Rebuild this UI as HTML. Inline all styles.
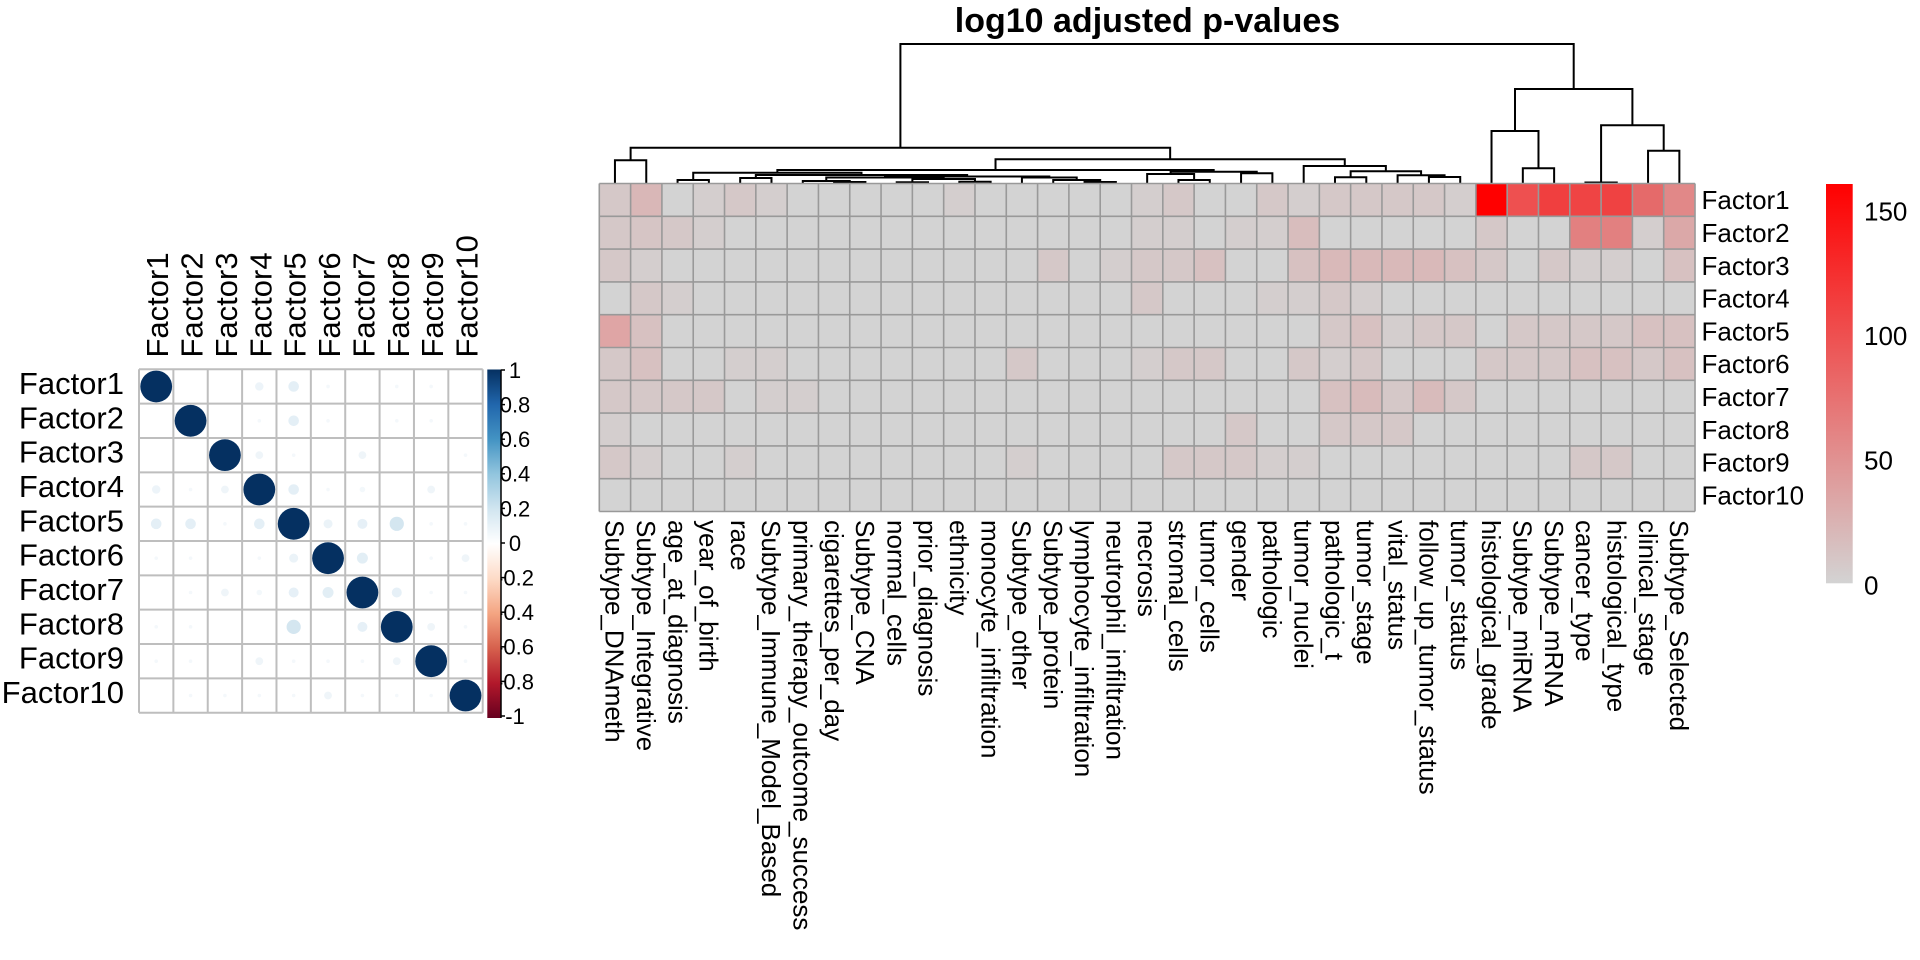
<!DOCTYPE html>
<html>
<head>
<meta charset="utf-8">
<style>
html,body{margin:0;padding:0;background:#fff;}
svg{display:block;}
text{font-family:"Liberation Sans",Arial,sans-serif;fill:#000;}
</style>
</head>
<body>
<svg width="1920" height="960" viewBox="0 0 1920 960" xmlns="http://www.w3.org/2000/svg">
<defs>
<linearGradient id="gR" x1="0" y1="0" x2="0" y2="1">
<stop offset="0" stop-color="#FF0000"/>
<stop offset="1" stop-color="#D3D3D3"/>
</linearGradient>
<linearGradient id="gB" x1="0" y1="0" x2="0" y2="1">
<stop offset="0" stop-color="#053061"/>
<stop offset="0.1" stop-color="#2166AC"/>
<stop offset="0.2" stop-color="#4393C3"/>
<stop offset="0.3" stop-color="#92C5DE"/>
<stop offset="0.4" stop-color="#D1E5F0"/>
<stop offset="0.5" stop-color="#FFFFFF"/>
<stop offset="0.6" stop-color="#FDDBC7"/>
<stop offset="0.7" stop-color="#F4A582"/>
<stop offset="0.8" stop-color="#D6604D"/>
<stop offset="0.9" stop-color="#B2182B"/>
<stop offset="1" stop-color="#67001F"/>
</linearGradient>
<clipPath id="cl"><rect x="0" y="0" width="535" height="960"/></clipPath>
</defs>
<rect width="1920" height="960" fill="#fff"/>

<!-- ============ CORRPLOT ============ -->
<g font-size="31" text-anchor="end">
<text x="124" y="394">Factor1</text>
<text x="124" y="428.3">Factor2</text>
<text x="124" y="462.6">Factor3</text>
<text x="124" y="497">Factor4</text>
<text x="124" y="531.3">Factor5</text>
<text x="124" y="565.7">Factor6</text>
<text x="124" y="600">Factor7</text>
<text x="124" y="634.3">Factor8</text>
<text x="124" y="668.7">Factor9</text>
<text x="124" y="703">Factor10</text>
</g>
<g font-size="31">
<text transform="translate(168.19,357.5) rotate(-90)">Factor1</text>
<text transform="translate(202.56,357.5) rotate(-90)">Factor2</text>
<text transform="translate(236.93,357.5) rotate(-90)">Factor3</text>
<text transform="translate(271.30,357.5) rotate(-90)">Factor4</text>
<text transform="translate(305.67,357.5) rotate(-90)">Factor5</text>
<text transform="translate(340.04,357.5) rotate(-90)">Factor6</text>
<text transform="translate(374.41,357.5) rotate(-90)">Factor7</text>
<text transform="translate(408.78,357.5) rotate(-90)">Factor8</text>
<text transform="translate(443.15,357.5) rotate(-90)">Factor9</text>
<text transform="translate(477.52,357.5) rotate(-90)">Factor10</text>
</g>
<rect x="139" y="369.3" width="343.7" height="343.4" fill="#fff"/>
<g stroke="#BEBEBE" stroke-width="2">
<line x1="139" y1="369.3" x2="139" y2="712.7"/>
<line x1="173.37" y1="369.3" x2="173.37" y2="712.7"/>
<line x1="207.74" y1="369.3" x2="207.74" y2="712.7"/>
<line x1="242.11" y1="369.3" x2="242.11" y2="712.7"/>
<line x1="276.48" y1="369.3" x2="276.48" y2="712.7"/>
<line x1="310.85" y1="369.3" x2="310.85" y2="712.7"/>
<line x1="345.22" y1="369.3" x2="345.22" y2="712.7"/>
<line x1="379.59" y1="369.3" x2="379.59" y2="712.7"/>
<line x1="413.96" y1="369.3" x2="413.96" y2="712.7"/>
<line x1="448.33" y1="369.3" x2="448.33" y2="712.7"/>
<line x1="482.7" y1="369.3" x2="482.7" y2="712.7"/>
<line x1="139" y1="369.3" x2="482.7" y2="369.3"/>
<line x1="139" y1="403.64" x2="482.7" y2="403.64"/>
<line x1="139" y1="437.98" x2="482.7" y2="437.98"/>
<line x1="139" y1="472.32" x2="482.7" y2="472.32"/>
<line x1="139" y1="506.66" x2="482.7" y2="506.66"/>
<line x1="139" y1="541" x2="482.7" y2="541"/>
<line x1="139" y1="575.34" x2="482.7" y2="575.34"/>
<line x1="139" y1="609.68" x2="482.7" y2="609.68"/>
<line x1="139" y1="644.02" x2="482.7" y2="644.02"/>
<line x1="139" y1="678.36" x2="482.7" y2="678.36"/>
<line x1="139" y1="712.7" x2="482.7" y2="712.7"/>
</g>
<!-- diagonal -->
<g fill="#053061">
<circle cx="156.19" cy="386.47" r="15.9"/>
<circle cx="190.56" cy="420.81" r="15.9"/>
<circle cx="224.93" cy="455.15" r="15.9"/>
<circle cx="259.30" cy="489.49" r="15.9"/>
<circle cx="293.67" cy="523.83" r="15.9"/>
<circle cx="328.04" cy="558.17" r="15.9"/>
<circle cx="362.41" cy="592.51" r="15.9"/>
<circle cx="396.78" cy="626.85" r="15.9"/>
<circle cx="431.15" cy="661.19" r="15.9"/>
<circle cx="465.52" cy="695.53" r="15.9"/>
</g>
<!-- off-diagonal small -->
<g>
<circle cx="259.30" cy="386.47" r="4.2" fill="#EDF4F9"/>
<circle cx="156.19" cy="489.49" r="4.2" fill="#EDF4F9"/>
<circle cx="293.67" cy="386.47" r="5.3" fill="#E4EFF6"/>
<circle cx="156.19" cy="523.83" r="5.3" fill="#E4EFF6"/>
<circle cx="293.67" cy="420.81" r="5.3" fill="#E4EFF6"/>
<circle cx="190.56" cy="523.83" r="5.3" fill="#E4EFF6"/>
<circle cx="259.30" cy="455.15" r="3.9" fill="#EFF5F9"/>
<circle cx="224.93" cy="489.49" r="3.9" fill="#EFF5F9"/>
<circle cx="362.41" cy="455.15" r="3.9" fill="#EFF5F9"/>
<circle cx="224.93" cy="592.51" r="3.9" fill="#EFF5F9"/>
<circle cx="293.67" cy="489.49" r="5.3" fill="#E4EFF6"/>
<circle cx="259.30" cy="523.83" r="5.3" fill="#E4EFF6"/>
<circle cx="362.41" cy="489.49" r="2.8" fill="#F3F8FB"/>
<circle cx="259.30" cy="592.51" r="2.8" fill="#F3F8FB"/>
<circle cx="431.15" cy="489.49" r="3.9" fill="#EFF5F9"/>
<circle cx="259.30" cy="661.19" r="3.9" fill="#EFF5F9"/>
<circle cx="328.04" cy="523.83" r="4.5" fill="#EBF3F8"/>
<circle cx="293.67" cy="558.17" r="4.5" fill="#EBF3F8"/>
<circle cx="362.41" cy="523.83" r="5.0" fill="#E6F0F7"/>
<circle cx="293.67" cy="592.51" r="5.0" fill="#E6F0F7"/>
<circle cx="396.78" cy="523.83" r="7.1" fill="#D4E6F0"/>
<circle cx="293.67" cy="626.85" r="7.1" fill="#D4E6F0"/>
<circle cx="362.41" cy="558.17" r="5.5" fill="#E2EEF5"/>
<circle cx="328.04" cy="592.51" r="5.5" fill="#E2EEF5"/>
<circle cx="465.52" cy="558.17" r="3.9" fill="#EFF5F9"/>
<circle cx="328.04" cy="695.53" r="3.9" fill="#EFF5F9"/>
<circle cx="396.78" cy="592.51" r="5.0" fill="#E6F0F7"/>
<circle cx="362.41" cy="626.85" r="5.0" fill="#E6F0F7"/>
<circle cx="431.15" cy="626.85" r="3.9" fill="#EFF5F9"/>
<circle cx="396.78" cy="661.19" r="3.9" fill="#EFF5F9"/>
</g>
<g fill="#F4F8FB">
<circle cx="328.04" cy="386.47" r="1.8"/><circle cx="156.19" cy="558.17" r="1.8"/>
<circle cx="396.78" cy="386.47" r="1.8"/><circle cx="431.15" cy="386.47" r="1.8"/>
<circle cx="259.30" cy="420.81" r="1.8"/><circle cx="328.04" cy="420.81" r="1.8"/>
<circle cx="396.78" cy="420.81" r="1.8"/><circle cx="431.15" cy="420.81" r="1.8"/>
<circle cx="190.56" cy="489.49" r="1.8"/><circle cx="328.04" cy="489.49" r="1.8"/>
<circle cx="293.67" cy="455.15" r="1.8"/><circle cx="465.52" cy="455.15" r="1.8"/>
<circle cx="431.15" cy="523.83" r="1.8"/><circle cx="465.52" cy="523.83" r="1.8"/>
<circle cx="224.93" cy="523.83" r="1.8"/><circle cx="190.56" cy="558.17" r="1.8"/>
<circle cx="259.30" cy="558.17" r="1.8"/><circle cx="431.15" cy="558.17" r="1.8"/>
<circle cx="190.56" cy="592.51" r="1.8"/><circle cx="431.15" cy="592.51" r="1.8"/>
<circle cx="465.52" cy="592.51" r="1.8"/><circle cx="156.19" cy="626.85" r="1.8"/>
<circle cx="190.56" cy="626.85" r="1.8"/><circle cx="465.52" cy="626.85" r="1.8"/>
<circle cx="156.19" cy="661.19" r="1.8"/><circle cx="190.56" cy="661.19" r="1.8"/>
<circle cx="293.67" cy="661.19" r="1.8"/><circle cx="328.04" cy="661.19" r="1.8"/>
<circle cx="362.41" cy="661.19" r="1.8"/><circle cx="465.52" cy="661.19" r="1.8"/>
<circle cx="190.56" cy="695.53" r="1.8"/><circle cx="224.93" cy="695.53" r="1.8"/>
<circle cx="259.30" cy="695.53" r="1.8"/><circle cx="293.67" cy="695.53" r="1.8"/>
<circle cx="362.41" cy="695.53" r="1.8"/><circle cx="396.78" cy="695.53" r="1.8"/>
<circle cx="431.15" cy="695.53" r="1.8"/>
</g>
<!-- corr color legend -->
<g clip-path="url(#cl)" font-size="22" text-anchor="middle">
<text x="515" y="377.9">1</text>
<text x="515" y="412.5">0.8</text>
<text x="515" y="447.1">0.6</text>
<text x="515" y="481.7">0.4</text>
<text x="515" y="516.3">0.2</text>
<text x="515" y="550.9">0</text>
<text x="515" y="585.5">-0.2</text>
<text x="515" y="620.1">-0.4</text>
<text x="515" y="654.7">-0.6</text>
<text x="515" y="689.3">-0.8</text>
<text x="515" y="723.9">-1</text>
</g>
<rect x="487.3" y="369.5" width="13.7" height="348.5" fill="url(#gB)"/>
<g stroke="#000" stroke-width="1.5">
<line x1="501" y1="369.5" x2="501" y2="718"/>
<line x1="501" y1="370" x2="505" y2="370"/>
<line x1="501" y1="404.6" x2="505" y2="404.6"/>
<line x1="501" y1="439.2" x2="505" y2="439.2"/>
<line x1="501" y1="473.8" x2="505" y2="473.8"/>
<line x1="501" y1="508.4" x2="505" y2="508.4"/>
<line x1="501" y1="543" x2="505" y2="543"/>
<line x1="501" y1="577.6" x2="505" y2="577.6"/>
<line x1="501" y1="612.2" x2="505" y2="612.2"/>
<line x1="501" y1="646.8" x2="505" y2="646.8"/>
<line x1="501" y1="681.4" x2="505" y2="681.4"/>
<line x1="501" y1="716" x2="505" y2="716"/>
</g>

<!-- ============ HEATMAP ============ -->
<text x="1147.5" y="32" text-anchor="middle" font-size="34" font-weight="bold">log10 adjusted p-values</text>

<!-- dendrogram -->
<g fill="none" stroke="#000" stroke-width="2">
<path d="M614.95 183.5 V160.3 H646.26 V183.5"/>
<path d="M677.57 183.5 V180 H708.87 V183.5"/>
<path d="M740.18 183.5 V178 H771.48 V183.5"/>
<path d="M834.10 183.5 V182 H865.40 V183.5"/>
<path d="M802.79 183.5 V181 H849.75 V182"/>
<path d="M896.71 183.5 V182.3 H928.01 V183.5"/>
<path d="M959.32 183.5 V181.7 H990.63 V183.5"/>
<path d="M912.36 182.3 V179 H974.97 V181.7"/>
<path d="M826.27 181 V177.5 H943.67 V179"/>
<path d="M1084.54 183.5 V182 H1115.85 V183.5"/>
<path d="M1053.24 183.5 V180 H1100.2 V182"/>
<path d="M1021.93 183.5 V177.5 H1076.72 V180"/>
<path d="M884.97 177.5 V176.5 H1049.33 V177.5"/>
<path d="M755.83 178 V175 H967.15 V176.5"/>
<path d="M693.22 180 V172.7 H861.49 V175"/>
<path d="M1178.46 183.5 V180 H1209.77 V183.5"/>
<path d="M1147.16 183.5 V174 H1194.11 V180"/>
<path d="M1241.07 183.5 V173.3 H1272.38 V183.5"/>
<path d="M1170.64 174 V171.7 H1256.73 V173.3"/>
<path d="M777.36 172.7 V170 H1213.69 V171.7"/>
<path d="M1334.99 183.5 V177.3 H1366.30 V183.5"/>
<path d="M1428.91 183.5 V177 H1460.22 V183.5"/>
<path d="M1397.60 183.5 V175.3 H1444.56 V177"/>
<path d="M1350.64 177.3 V171.3 H1421.08 V175.3"/>
<path d="M1303.69 183.5 V166 H1385.86 V171.3"/>
<path d="M995.52 170 V159.3 H1344.77 V166"/>
<path d="M630.61 160.3 V147.7 H1170.15 V159.3"/>
<path d="M1522.83 183.5 V168.3 H1554.13 V183.5"/>
<path d="M1491.52 183.5 V131 H1538.48 V168.3"/>
<path d="M1585.44 183.5 V182.5 H1616.75 V183.5"/>
<path d="M1648.05 183.5 V150.7 H1679.36 V183.5"/>
<path d="M1601.09 182.5 V125.3 H1663.7 V150.7"/>
<path d="M1515.0 131 V89 H1632.4 V125.3"/>
<path d="M900.4 147.7 V44 H1573.7 V89"/>
</g>

<!-- cells -->
<rect x="599.3" y="183.5" width="1095.71" height="328" fill="#D3D3D3"/>
<g>
<!-- Row 1 -->
<rect x="599.30" y="183.5" width="31.31" height="32.8" fill="#D5C8C8"/>
<rect x="630.61" y="183.5" width="31.31" height="32.8" fill="#D9B7B7"/>
<rect x="693.22" y="183.5" width="31.31" height="32.8" fill="#D4CECE"/>
<rect x="724.52" y="183.5" width="31.31" height="32.8" fill="#D5C8C8"/>
<rect x="755.83" y="183.5" width="31.31" height="32.8" fill="#D4CECE"/>
<rect x="943.67" y="183.5" width="31.31" height="32.8" fill="#D4CECE"/>
<rect x="1131.50" y="183.5" width="31.31" height="32.8" fill="#D4CECE"/>
<rect x="1162.81" y="183.5" width="31.31" height="32.8" fill="#D5C8C8"/>
<rect x="1256.73" y="183.5" width="31.31" height="32.8" fill="#D5C8C8"/>
<rect x="1288.03" y="183.5" width="31.31" height="32.8" fill="#D4CECE"/>
<rect x="1319.34" y="183.5" width="31.31" height="32.8" fill="#D5C8C8"/>
<rect x="1350.64" y="183.5" width="31.31" height="32.8" fill="#D5C8C8"/>
<rect x="1381.95" y="183.5" width="31.31" height="32.8" fill="#D5C8C8"/>
<rect x="1413.26" y="183.5" width="31.31" height="32.8" fill="#D5C8C8"/>
<rect x="1444.56" y="183.5" width="31.31" height="32.8" fill="#D4CECE"/>
<rect x="1475.87" y="183.5" width="31.31" height="32.8" fill="#FF0000"/>
<rect x="1507.17" y="183.5" width="31.31" height="32.8" fill="#EE5050"/>
<rect x="1538.48" y="183.5" width="31.31" height="32.8" fill="#F03F3F"/>
<rect x="1569.78" y="183.5" width="31.31" height="32.8" fill="#EF4444"/>
<rect x="1601.09" y="183.5" width="31.31" height="32.8" fill="#EF4242"/>
<rect x="1632.40" y="183.5" width="31.31" height="32.8" fill="#E56A6A"/>
<rect x="1663.70" y="183.5" width="31.31" height="32.8" fill="#E18888"/>
<!-- Row 2 -->
<rect x="599.30" y="216.3" width="31.31" height="32.8" fill="#D5C8C8"/>
<rect x="630.61" y="216.3" width="31.31" height="32.8" fill="#D6C5C5"/>
<rect x="661.91" y="216.3" width="31.31" height="32.8" fill="#D5C8C8"/>
<rect x="693.22" y="216.3" width="31.31" height="32.8" fill="#D4CECE"/>
<rect x="1131.50" y="216.3" width="31.31" height="32.8" fill="#D4CECE"/>
<rect x="1162.81" y="216.3" width="31.31" height="32.8" fill="#D4CECE"/>
<rect x="1225.42" y="216.3" width="31.31" height="32.8" fill="#D4CECE"/>
<rect x="1256.73" y="216.3" width="31.31" height="32.8" fill="#D4CECE"/>
<rect x="1288.03" y="216.3" width="31.31" height="32.8" fill="#D8BDBD"/>
<rect x="1475.87" y="216.3" width="31.31" height="32.8" fill="#D5C8C8"/>
<rect x="1569.78" y="216.3" width="31.31" height="32.8" fill="#E28080"/>
<rect x="1601.09" y="216.3" width="31.31" height="32.8" fill="#E28080"/>
<rect x="1632.40" y="216.3" width="31.31" height="32.8" fill="#D4CECE"/>
<rect x="1663.70" y="216.3" width="31.31" height="32.8" fill="#DBA8A8"/>
<!-- Row 3 -->
<rect x="599.30" y="249.1" width="31.31" height="32.8" fill="#D5C8C8"/>
<rect x="630.61" y="249.1" width="31.31" height="32.8" fill="#D4CECE"/>
<rect x="1037.58" y="249.1" width="31.31" height="32.8" fill="#D5C8C8"/>
<rect x="1100.20" y="249.1" width="31.31" height="32.8" fill="#D4CECE"/>
<rect x="1131.50" y="249.1" width="31.31" height="32.8" fill="#D5C8C8"/>
<rect x="1162.81" y="249.1" width="31.31" height="32.8" fill="#D5C8C8"/>
<rect x="1194.11" y="249.1" width="31.31" height="32.8" fill="#D7C1C1"/>
<rect x="1288.03" y="249.1" width="31.31" height="32.8" fill="#D7C1C1"/>
<rect x="1319.34" y="249.1" width="31.31" height="32.8" fill="#D9B9B9"/>
<rect x="1350.64" y="249.1" width="31.31" height="32.8" fill="#D9B9B9"/>
<rect x="1381.95" y="249.1" width="31.31" height="32.8" fill="#D9B9B9"/>
<rect x="1413.26" y="249.1" width="31.31" height="32.8" fill="#D9B9B9"/>
<rect x="1444.56" y="249.1" width="31.31" height="32.8" fill="#D7C1C1"/>
<rect x="1475.87" y="249.1" width="31.31" height="32.8" fill="#D5C8C8"/>
<rect x="1538.48" y="249.1" width="31.31" height="32.8" fill="#D5C8C8"/>
<rect x="1569.78" y="249.1" width="31.31" height="32.8" fill="#D4CECE"/>
<rect x="1601.09" y="249.1" width="31.31" height="32.8" fill="#D4CECE"/>
<rect x="1663.70" y="249.1" width="31.31" height="32.8" fill="#D7C1C1"/>
<!-- Row 4 -->
<rect x="630.61" y="281.9" width="31.31" height="32.8" fill="#D5C8C8"/>
<rect x="661.91" y="281.9" width="31.31" height="32.8" fill="#D4CECE"/>
<rect x="1131.50" y="281.9" width="31.31" height="32.8" fill="#D5C8C8"/>
<rect x="1256.73" y="281.9" width="31.31" height="32.8" fill="#D4CECE"/>
<rect x="1288.03" y="281.9" width="31.31" height="32.8" fill="#D4CECE"/>
<rect x="1319.34" y="281.9" width="31.31" height="32.8" fill="#D5C8C8"/>
<rect x="1350.64" y="281.9" width="31.31" height="32.8" fill="#D4CECE"/>
<!-- Row 5 -->
<rect x="599.30" y="314.7" width="31.31" height="32.8" fill="#DFA5A5"/>
<rect x="630.61" y="314.7" width="31.31" height="32.8" fill="#D7C1C1"/>
<rect x="1319.34" y="314.7" width="31.31" height="32.8" fill="#D5C8C8"/>
<rect x="1350.64" y="314.7" width="31.31" height="32.8" fill="#D7C1C1"/>
<rect x="1381.95" y="314.7" width="31.31" height="32.8" fill="#D4CECE"/>
<rect x="1413.26" y="314.7" width="31.31" height="32.8" fill="#D5C8C8"/>
<rect x="1444.56" y="314.7" width="31.31" height="32.8" fill="#D5C8C8"/>
<rect x="1507.17" y="314.7" width="31.31" height="32.8" fill="#D5C8C8"/>
<rect x="1538.48" y="314.7" width="31.31" height="32.8" fill="#D5C8C8"/>
<rect x="1569.78" y="314.7" width="31.31" height="32.8" fill="#D5C8C8"/>
<rect x="1601.09" y="314.7" width="31.31" height="32.8" fill="#D5C8C8"/>
<rect x="1632.40" y="314.7" width="31.31" height="32.8" fill="#D7C1C1"/>
<rect x="1663.70" y="314.7" width="31.31" height="32.8" fill="#D7C1C1"/>
<!-- Row 6 -->
<rect x="599.30" y="347.5" width="31.31" height="32.8" fill="#D5C8C8"/>
<rect x="630.61" y="347.5" width="31.31" height="32.8" fill="#D7C1C1"/>
<rect x="724.52" y="347.5" width="31.31" height="32.8" fill="#D4CECE"/>
<rect x="755.83" y="347.5" width="31.31" height="32.8" fill="#D4CECE"/>
<rect x="1006.28" y="347.5" width="31.31" height="32.8" fill="#D5C8C8"/>
<rect x="1131.50" y="347.5" width="31.31" height="32.8" fill="#D4CECE"/>
<rect x="1162.81" y="347.5" width="31.31" height="32.8" fill="#D5C8C8"/>
<rect x="1194.11" y="347.5" width="31.31" height="32.8" fill="#D5C8C8"/>
<rect x="1288.03" y="347.5" width="31.31" height="32.8" fill="#D5C8C8"/>
<rect x="1319.34" y="347.5" width="31.31" height="32.8" fill="#D4CECE"/>
<rect x="1350.64" y="347.5" width="31.31" height="32.8" fill="#D5C8C8"/>
<rect x="1475.87" y="347.5" width="31.31" height="32.8" fill="#D5C8C8"/>
<rect x="1507.17" y="347.5" width="31.31" height="32.8" fill="#D5C8C8"/>
<rect x="1538.48" y="347.5" width="31.31" height="32.8" fill="#D5C8C8"/>
<rect x="1569.78" y="347.5" width="31.31" height="32.8" fill="#D7C1C1"/>
<rect x="1601.09" y="347.5" width="31.31" height="32.8" fill="#D7C1C1"/>
<rect x="1632.40" y="347.5" width="31.31" height="32.8" fill="#D5C8C8"/>
<rect x="1663.70" y="347.5" width="31.31" height="32.8" fill="#D7C1C1"/>
<!-- Row 7 -->
<rect x="599.30" y="380.3" width="31.31" height="32.8" fill="#D5C8C8"/>
<rect x="630.61" y="380.3" width="31.31" height="32.8" fill="#D5C8C8"/>
<rect x="661.91" y="380.3" width="31.31" height="32.8" fill="#D5C8C8"/>
<rect x="693.22" y="380.3" width="31.31" height="32.8" fill="#D5C8C8"/>
<rect x="755.83" y="380.3" width="31.31" height="32.8" fill="#D4CECE"/>
<rect x="787.14" y="380.3" width="31.31" height="32.8" fill="#D4CECE"/>
<rect x="1319.34" y="380.3" width="31.31" height="32.8" fill="#D7C1C1"/>
<rect x="1350.64" y="380.3" width="31.31" height="32.8" fill="#D8BBBB"/>
<rect x="1381.95" y="380.3" width="31.31" height="32.8" fill="#D5C8C8"/>
<rect x="1413.26" y="380.3" width="31.31" height="32.8" fill="#D8BBBB"/>
<rect x="1444.56" y="380.3" width="31.31" height="32.8" fill="#D5C8C8"/>
<!-- Row 8 -->
<rect x="599.30" y="413.1" width="31.31" height="32.8" fill="#D4CECE"/>
<rect x="1225.42" y="413.1" width="31.31" height="32.8" fill="#D5C8C8"/>
<rect x="1319.34" y="413.1" width="31.31" height="32.8" fill="#D5C8C8"/>
<rect x="1350.64" y="413.1" width="31.31" height="32.8" fill="#D5C8C8"/>
<rect x="1381.95" y="413.1" width="31.31" height="32.8" fill="#D5C8C8"/>
<!-- Row 9 -->
<rect x="599.30" y="445.9" width="31.31" height="32.8" fill="#D5C8C8"/>
<rect x="630.61" y="445.9" width="31.31" height="32.8" fill="#D4CECE"/>
<rect x="724.52" y="445.9" width="31.31" height="32.8" fill="#D4CECE"/>
<rect x="1006.28" y="445.9" width="31.31" height="32.8" fill="#D4CECE"/>
<rect x="1162.81" y="445.9" width="31.31" height="32.8" fill="#D5C8C8"/>
<rect x="1194.11" y="445.9" width="31.31" height="32.8" fill="#D5C8C8"/>
<rect x="1225.42" y="445.9" width="31.31" height="32.8" fill="#D5C8C8"/>
<rect x="1256.73" y="445.9" width="31.31" height="32.8" fill="#D4CECE"/>
<rect x="1288.03" y="445.9" width="31.31" height="32.8" fill="#D4CECE"/>
<rect x="1569.78" y="445.9" width="31.31" height="32.8" fill="#D5C8C8"/>
<rect x="1601.09" y="445.9" width="31.31" height="32.8" fill="#D5C8C8"/>
</g>
<!-- heatmap grid -->
<g stroke="#999999" stroke-width="1.6">
<line x1="599.30" y1="183.5" x2="599.30" y2="511.5"/>
<line x1="630.61" y1="183.5" x2="630.61" y2="511.5"/>
<line x1="661.91" y1="183.5" x2="661.91" y2="511.5"/>
<line x1="693.22" y1="183.5" x2="693.22" y2="511.5"/>
<line x1="724.52" y1="183.5" x2="724.52" y2="511.5"/>
<line x1="755.83" y1="183.5" x2="755.83" y2="511.5"/>
<line x1="787.14" y1="183.5" x2="787.14" y2="511.5"/>
<line x1="818.44" y1="183.5" x2="818.44" y2="511.5"/>
<line x1="849.75" y1="183.5" x2="849.75" y2="511.5"/>
<line x1="881.05" y1="183.5" x2="881.05" y2="511.5"/>
<line x1="912.36" y1="183.5" x2="912.36" y2="511.5"/>
<line x1="943.67" y1="183.5" x2="943.67" y2="511.5"/>
<line x1="974.97" y1="183.5" x2="974.97" y2="511.5"/>
<line x1="1006.28" y1="183.5" x2="1006.28" y2="511.5"/>
<line x1="1037.58" y1="183.5" x2="1037.58" y2="511.5"/>
<line x1="1068.89" y1="183.5" x2="1068.89" y2="511.5"/>
<line x1="1100.20" y1="183.5" x2="1100.20" y2="511.5"/>
<line x1="1131.50" y1="183.5" x2="1131.50" y2="511.5"/>
<line x1="1162.81" y1="183.5" x2="1162.81" y2="511.5"/>
<line x1="1194.11" y1="183.5" x2="1194.11" y2="511.5"/>
<line x1="1225.42" y1="183.5" x2="1225.42" y2="511.5"/>
<line x1="1256.73" y1="183.5" x2="1256.73" y2="511.5"/>
<line x1="1288.03" y1="183.5" x2="1288.03" y2="511.5"/>
<line x1="1319.34" y1="183.5" x2="1319.34" y2="511.5"/>
<line x1="1350.64" y1="183.5" x2="1350.64" y2="511.5"/>
<line x1="1381.95" y1="183.5" x2="1381.95" y2="511.5"/>
<line x1="1413.26" y1="183.5" x2="1413.26" y2="511.5"/>
<line x1="1444.56" y1="183.5" x2="1444.56" y2="511.5"/>
<line x1="1475.87" y1="183.5" x2="1475.87" y2="511.5"/>
<line x1="1507.17" y1="183.5" x2="1507.17" y2="511.5"/>
<line x1="1538.48" y1="183.5" x2="1538.48" y2="511.5"/>
<line x1="1569.78" y1="183.5" x2="1569.78" y2="511.5"/>
<line x1="1601.09" y1="183.5" x2="1601.09" y2="511.5"/>
<line x1="1632.40" y1="183.5" x2="1632.40" y2="511.5"/>
<line x1="1663.70" y1="183.5" x2="1663.70" y2="511.5"/>
<line x1="1695.01" y1="183.5" x2="1695.01" y2="511.5"/>
<line x1="599.3" y1="183.5" x2="1695.01" y2="183.5"/>
<line x1="599.3" y1="216.3" x2="1695.01" y2="216.3"/>
<line x1="599.3" y1="249.1" x2="1695.01" y2="249.1"/>
<line x1="599.3" y1="281.9" x2="1695.01" y2="281.9"/>
<line x1="599.3" y1="314.7" x2="1695.01" y2="314.7"/>
<line x1="599.3" y1="347.5" x2="1695.01" y2="347.5"/>
<line x1="599.3" y1="380.3" x2="1695.01" y2="380.3"/>
<line x1="599.3" y1="413.1" x2="1695.01" y2="413.1"/>
<line x1="599.3" y1="445.9" x2="1695.01" y2="445.9"/>
<line x1="599.3" y1="478.7" x2="1695.01" y2="478.7"/>
<line x1="599.3" y1="511.5" x2="1695.01" y2="511.5"/>
</g>

<!-- row labels -->
<g font-size="26">
<text x="1701.5" y="209.2">Factor1</text>
<text x="1701.5" y="242">Factor2</text>
<text x="1701.5" y="274.8">Factor3</text>
<text x="1701.5" y="307.6">Factor4</text>
<text x="1701.5" y="340.4">Factor5</text>
<text x="1701.5" y="373.2">Factor6</text>
<text x="1701.5" y="406">Factor7</text>
<text x="1701.5" y="438.8">Factor8</text>
<text x="1701.5" y="471.6">Factor9</text>
<text x="1701.5" y="504.4">Factor10</text>
</g>

<!-- column labels -->
<g font-size="26">
<text transform="translate(605.65,520) rotate(90)">Subtype_DNAmeth</text>
<text transform="translate(636.96,520) rotate(90)">Subtype_Integrative</text>
<text transform="translate(668.27,520) rotate(90)">age_at_diagnosis</text>
<text transform="translate(699.57,520) rotate(90)">year_of_birth</text>
<text transform="translate(730.88,520) rotate(90)">race</text>
<text transform="translate(762.18,520) rotate(90)">Subtype_Immune_Model_Based</text>
<text transform="translate(793.49,520) rotate(90)">primary_therapy_outcome_success</text>
<text transform="translate(824.80,520) rotate(90)">cigarettes_per_day</text>
<text transform="translate(856.10,520) rotate(90)">Subtype_CNA</text>
<text transform="translate(887.41,520) rotate(90)">normal_cells</text>
<text transform="translate(918.71,520) rotate(90)">prior_diagnosis</text>
<text transform="translate(950.02,520) rotate(90)">ethnicity</text>
<text transform="translate(981.33,520) rotate(90)">monocyte_infiltration</text>
<text transform="translate(1012.63,520) rotate(90)">Subtype_other</text>
<text transform="translate(1043.94,520) rotate(90)">Subtype_protein</text>
<text transform="translate(1075.24,520) rotate(90)">lymphocyte_infiltration</text>
<text transform="translate(1106.55,520) rotate(90)">neutrophil_infiltration</text>
<text transform="translate(1137.86,520) rotate(90)">necrosis</text>
<text transform="translate(1169.16,520) rotate(90)">stromal_cells</text>
<text transform="translate(1200.47,520) rotate(90)">tumor_cells</text>
<text transform="translate(1231.77,520) rotate(90)">gender</text>
<text transform="translate(1263.08,520) rotate(90)">pathologic</text>
<text transform="translate(1294.39,520) rotate(90)">tumor_nuclei</text>
<text transform="translate(1325.69,520) rotate(90)">pathologic_t</text>
<text transform="translate(1357.00,520) rotate(90)">tumor_stage</text>
<text transform="translate(1388.30,520) rotate(90)">vital_status</text>
<text transform="translate(1419.61,520) rotate(90)">follow_up_tumor_status</text>
<text transform="translate(1450.92,520) rotate(90)">tumor_status</text>
<text transform="translate(1482.22,520) rotate(90)">histological_grade</text>
<text transform="translate(1513.53,520) rotate(90)">Subtype_miRNA</text>
<text transform="translate(1544.83,520) rotate(90)">Subtype_mRNA</text>
<text transform="translate(1576.14,520) rotate(90)">cancer_type</text>
<text transform="translate(1607.45,520) rotate(90)">histological_type</text>
<text transform="translate(1638.75,520) rotate(90)">clinical_stage</text>
<text transform="translate(1670.06,520) rotate(90)">Subtype_Selected</text>
</g>

<!-- heatmap legend -->
<rect x="1826" y="184" width="26.7" height="399.3" fill="url(#gR)"/>
<g font-size="26">
<text x="1864" y="220.3">150</text>
<text x="1864" y="345">100</text>
<text x="1864" y="469.3">50</text>
<text x="1864" y="594.3">0</text>
</g>
</svg>
</body>
</html>
